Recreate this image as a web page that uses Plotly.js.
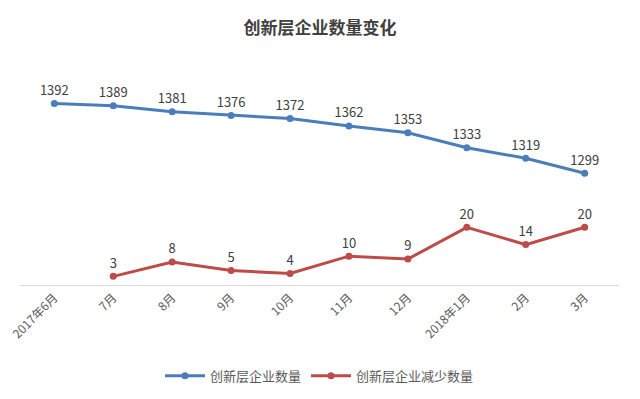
<!DOCTYPE html>
<html><head><meta charset="utf-8">
<script src="https://cdn.plot.ly/plotly-3.0.1.min.js"></script>
<style>body{margin:0;background:#fff}#c{width:640px;height:399px}</style>
</head><body><div id="c"></div>
<script>
const categories = ['2017年6月','7月','8月','9月','10月','11月','12月','2018年1月','2月','3月'];
const totalCount = [1392,1389,1381,1376,1372,1362,1353,1333,1319,1299];
const decrease = [null,3,8,5,4,10,9,20,14,20];
const seriesNames = ['创新层企业数量','创新层企业减少数量'];
const font = '"Noto Sans CJK SC", "Microsoft YaHei", sans-serif';
const traces = [
 {x:categories,y:totalCount,name:seriesNames[0],type:'scatter',mode:'lines+markers+text',
  text:totalCount.map(String),textposition:'top center',textfont:{size:13,color:'#404040'},
  line:{color:'#4A7EBB',width:3},marker:{color:'#4A7EBB',size:7},yaxis:'y',cliponaxis:false},
 {x:categories,y:decrease,name:seriesNames[1],type:'scatter',mode:'lines+markers+text',
  text:decrease.map(v=>v==null?'':String(v)),textposition:'top center',textfont:{size:13,color:'#404040'},
  line:{color:'#BE4B48',width:3},marker:{color:'#BE4B48',size:7},yaxis:'y2',cliponaxis:false}
];
const layout = {
 width:640,height:399,margin:{l:20,r:21,t:60,b:114},
 paper_bgcolor:'#fff',plot_bgcolor:'#fff',
 font:{family:font,color:'#595959'},
 title:{text:'<b>创新层企业数量变化</b>',x:0.5,xanchor:'center',y:0.93,yanchor:'middle',font:{size:17,color:'#404040',family:font}},
 xaxis:{type:'category',tickangle:-45,tickfont:{size:12,color:'#595959'},showline:true,linecolor:'#D9D9D9',linewidth:1,ticks:'',showgrid:false,zeroline:false,automargin:false},
 yaxis:{range:[1150,1450],visible:false,showgrid:false,zeroline:false},
 yaxis2:{range:[0,78],overlaying:'y',side:'right',visible:false,showgrid:false,zeroline:false},
 showlegend:true,
 legend:{orientation:'h',x:0.5,xanchor:'center',yref:'container',y:0.058,yanchor:'middle',font:{size:13,color:'#595959'},itemwidth:40,tracegroupgap:20}
};
Plotly.newPlot('c',traces,layout,{displayModeBar:false,staticPlot:true});
</script></body></html>
